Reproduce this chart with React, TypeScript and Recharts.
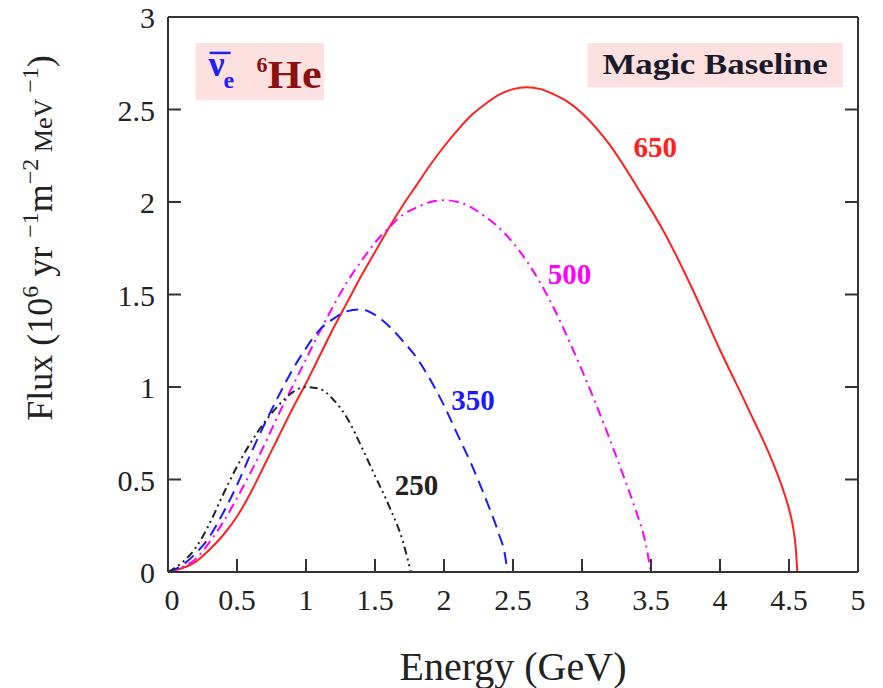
import { LineChart, Line, XAxis, YAxis, ReferenceArea, ReferenceDot, Label } from "recharts";

const xTicks = [0, 0.5, 1, 1.5, 2, 2.5, 3, 3.5, 4, 4.5, 5];
const yTicks = [0, 0.5, 1, 1.5, 2, 2.5, 3];

// gamma = 250
const energy250 = [0, 0.1, 0.2, 0.3, 0.4, 0.5, 0.6, 0.7, 0.8, 0.9, 1.0, 1.1, 1.2, 1.3, 1.4, 1.5, 1.6, 1.7, 1.76];
const flux250 = [0, 0.05, 0.13, 0.26, 0.42, 0.57, 0.7, 0.81, 0.9, 0.97, 1.0, 0.99, 0.93, 0.83, 0.68, 0.52, 0.36, 0.17, 0];

// gamma = 350
const energy350 = [0, 0.1, 0.2, 0.3, 0.4, 0.5, 0.6, 0.7, 0.8, 0.9, 1.0, 1.1, 1.2, 1.3, 1.4, 1.5, 1.6, 1.7, 1.8, 1.9, 2.0, 2.1, 2.2, 2.3, 2.4, 2.44, 2.46];
const flux350 = [0, 0.035, 0.1, 0.19, 0.32, 0.47, 0.64, 0.8, 0.95, 1.09, 1.21, 1.31, 1.37, 1.41, 1.42, 1.39, 1.33, 1.25, 1.16, 1.04, 0.9, 0.74, 0.58, 0.4, 0.2, 0.1, 0];

// gamma = 500
const energy500 = [0, 0.1, 0.2, 0.3, 0.4, 0.5, 0.6, 0.7, 0.8, 0.9, 1.0, 1.1, 1.2, 1.3, 1.4, 1.5, 1.6, 1.7, 1.8, 1.9, 2.0, 2.1, 2.2, 2.3, 2.4, 2.5, 2.6, 2.7, 2.8, 2.9, 3.0, 3.1, 3.2, 3.3, 3.4, 3.45, 3.5];
const flux500 = [0, 0.025, 0.07, 0.16, 0.27, 0.4, 0.54, 0.69, 0.85, 1.0, 1.15, 1.3, 1.44, 1.57, 1.68, 1.78, 1.86, 1.93, 1.97, 2.0, 2.01, 2.0, 1.97, 1.92, 1.86, 1.78, 1.68, 1.56, 1.42, 1.26, 1.09, 0.91, 0.72, 0.52, 0.31, 0.19, 0];

// gamma = 650
const energy650 = [0, 0.1, 0.2, 0.3, 0.4, 0.5, 0.6, 0.7, 0.8, 0.9, 1.0, 1.1, 1.2, 1.3, 1.4, 1.5, 1.6, 1.7, 1.8, 1.9, 2.0, 2.1, 2.2, 2.3, 2.4, 2.5, 2.6, 2.7, 2.8, 2.9, 3.0, 3.2, 3.4, 3.6, 3.8, 4.0, 4.2, 4.4, 4.45, 4.5, 4.53, 4.55, 4.56];
const flux650 = [0, 0.02, 0.055, 0.12, 0.2, 0.3, 0.43, 0.58, 0.73, 0.88, 1.02, 1.17, 1.32, 1.46, 1.6, 1.73, 1.86, 1.98, 2.09, 2.2, 2.3, 2.39, 2.47, 2.53, 2.58, 2.61, 2.62, 2.61, 2.58, 2.54, 2.48, 2.31, 2.08, 1.83, 1.53, 1.2, 0.89, 0.56, 0.46, 0.34, 0.24, 0.12, 0];

const toPoints = (e: number[], f: number[]) => e.map((x, i) => ({ e: x, f: f[i] }));

const serif = "'Liberation Serif', 'DejaVu Serif', serif";
const axisColor = "#333";

const BottomTick = ({ x, y, payload }: any) => (
  <g>
    <line x1={x} y1={y} x2={x} y2={y - 13} stroke={axisColor} strokeWidth={2} />
    <text x={x + (payload.value === 0 ? 4 : 0)} y={y + 38} textAnchor="middle" fontSize={30} fontFamily={serif} fill="#222">
      {payload.value}
    </text>
  </g>
);

const TopTick = ({ x, y }: any) => (
  <line x1={x} y1={y} x2={x} y2={y + 13} stroke={axisColor} strokeWidth={2} />
);

const LeftTick = ({ x, y, payload }: any) => (
  <g>
    <line x1={x} y1={y} x2={x + 13} y2={y} stroke={axisColor} strokeWidth={2} />
    <text x={x - 13} y={y + 11} textAnchor="end" fontSize={30} fontFamily={serif} fill="#222">
      {payload.value}
    </text>
  </g>
);

const RightTick = ({ x, y }: any) => (
  <line x1={x} y1={y} x2={x - 13} y2={y} stroke={axisColor} strokeWidth={2} />
);

const FluxTitle = () => (
  <text transform="translate(52, 238) rotate(-90)" textAnchor="middle" fontFamily={serif} fill="#222" fontSize={36}>
    <tspan>Flux (10</tspan>
    <tspan fontSize={24} dy={-14}>6</tspan>
    <tspan dy={14}> yr </tspan>
    <tspan fontSize={24} dy={-14}>−1</tspan>
    <tspan dy={14}>m</tspan>
    <tspan fontSize={24} dy={-14}>−2</tspan>
    <tspan fontSize={26} dy={14}> MeV</tspan>
    <tspan fontSize={24} dy={-14}> −1</tspan>
    <tspan dy={14}>)</tspan>
  </text>
);

const IsotopeLabel = ({ viewBox }: any) => {
  const { x, y } = viewBox;
  return (
    <g fontFamily={serif} fontWeight="bold">
      <line x1={x + 14} y1={y + 10} x2={x + 35} y2={y + 10} stroke="#2020ff" strokeWidth={2.5} />
      <text x={x + 13} y={y + 33} fontSize={36} fill="#2020ff">ν</text>
      <text x={x + 28} y={y + 45} fontSize={24} fill="#2020ff">e</text>
      <text x={x + 61} y={y + 29} fontSize={22} fill="#8b1010">6</text>
      <text x={x + 72} y={y + 45} fontSize={40} fill="#8b1010" textLength={54} lengthAdjust="spacingAndGlyphs">He</text>
    </g>
  );
};

const BaselineLabel = ({ viewBox }: any) => {
  const { x, y, width } = viewBox;
  return (
    <text x={x + 15} y={y + 31} textLength={width - 30} lengthAdjust="spacingAndGlyphs" fontSize={30} fontWeight="bold" fontFamily={serif} fill="#1a1a2e">
      Magic Baseline
    </text>
  );
};

const curveLabel = (value: string, color: string) => ({
  value,
  position: "center" as const,
  fill: color,
  fontSize: 29,
  fontWeight: "bold",
  fontFamily: serif,
});

export default function App() {
  return (
    <div style={{ position: "absolute", left: 0, top: 0, width: 883, height: 688, background: "#fff" }}>
      <LineChart width={883} height={688} margin={{ top: 0, right: 0, bottom: 0, left: 0 }}>
        <XAxis
          dataKey="e"
          type="number"
          domain={[0, 5]}
          ticks={xTicks}
          allowDataOverflow
          height={116}
          tickSize={0}
          tickMargin={0}
          tickLine={false}
          tick={<BottomTick />}
          axisLine={{ stroke: axisColor, strokeWidth: 2 }}
          interval={0}
        >
          <Label value="Energy (GeV)" position="insideBottom" offset={8} fontSize={40} fontFamily={serif} fill="#222" />
        </XAxis>
        <XAxis
          xAxisId="top"
          orientation="top"
          type="number"
          domain={[0, 5]}
          ticks={xTicks}
          allowDataOverflow
          height={17}
          tickSize={0}
          tickMargin={0}
          tickLine={false}
          tick={<TopTick />}
          axisLine={{ stroke: axisColor, strokeWidth: 2 }}
          interval={0}
        />
        <YAxis
          type="number"
          domain={[0, 3]}
          ticks={yTicks}
          allowDataOverflow
          width={168}
          tickSize={0}
          tickMargin={0}
          tickLine={false}
          tick={<LeftTick />}
          axisLine={{ stroke: axisColor, strokeWidth: 2 }}
          interval={0}
        >
          <Label content={<FluxTitle />} />
        </YAxis>
        <YAxis
          yAxisId="right"
          orientation="right"
          type="number"
          domain={[0, 3]}
          ticks={yTicks}
          allowDataOverflow
          width={25}
          tickSize={0}
          tickMargin={0}
          tickLine={false}
          tick={<RightTick />}
          axisLine={{ stroke: axisColor, strokeWidth: 2 }}
          interval={0}
        />

        <ReferenceArea x1={0.2} x2={1.13} y1={2.55} y2={2.86} fill="#fde0e0" fillOpacity={1} stroke="none" label={<IsotopeLabel />} />
        <ReferenceArea x1={3.04} x2={4.89} y1={2.62} y2={2.86} fill="#fde0e0" fillOpacity={1} stroke="none" label={<BaselineLabel />} />

        <Line data={toPoints(energy650, flux650)} dataKey="f" type="monotone" stroke="#ff2020" strokeWidth={2} dot={false} isAnimationActive={false} />
        <Line data={toPoints(energy500, flux500)} dataKey="f" type="monotone" stroke="#ff00ff" strokeWidth={2} strokeDasharray="10 5 2 5" dot={false} isAnimationActive={false} />
        <Line data={toPoints(energy350, flux350)} dataKey="f" type="monotone" stroke="#1a1aff" strokeWidth={2} strokeDasharray="12 7" dot={false} isAnimationActive={false} />
        <Line data={toPoints(energy250, flux250)} dataKey="f" type="monotone" stroke="#222" strokeWidth={2} strokeDasharray="8 4 2 4 2 4" dot={false} isAnimationActive={false} />

        <ReferenceDot x={3.53} y={2.3} r={0} stroke="none" label={curveLabel("650", "#ff2020")} />
        <ReferenceDot x={2.91} y={1.61} r={0} stroke="none" label={curveLabel("500", "#ff00ff")} />
        <ReferenceDot x={2.21} y={0.93} r={0} stroke="none" label={curveLabel("350", "#1a1aff")} />
        <ReferenceDot x={1.8} y={0.47} r={0} stroke="none" label={curveLabel("250", "#222")} />
      </LineChart>
    </div>
  );
}
